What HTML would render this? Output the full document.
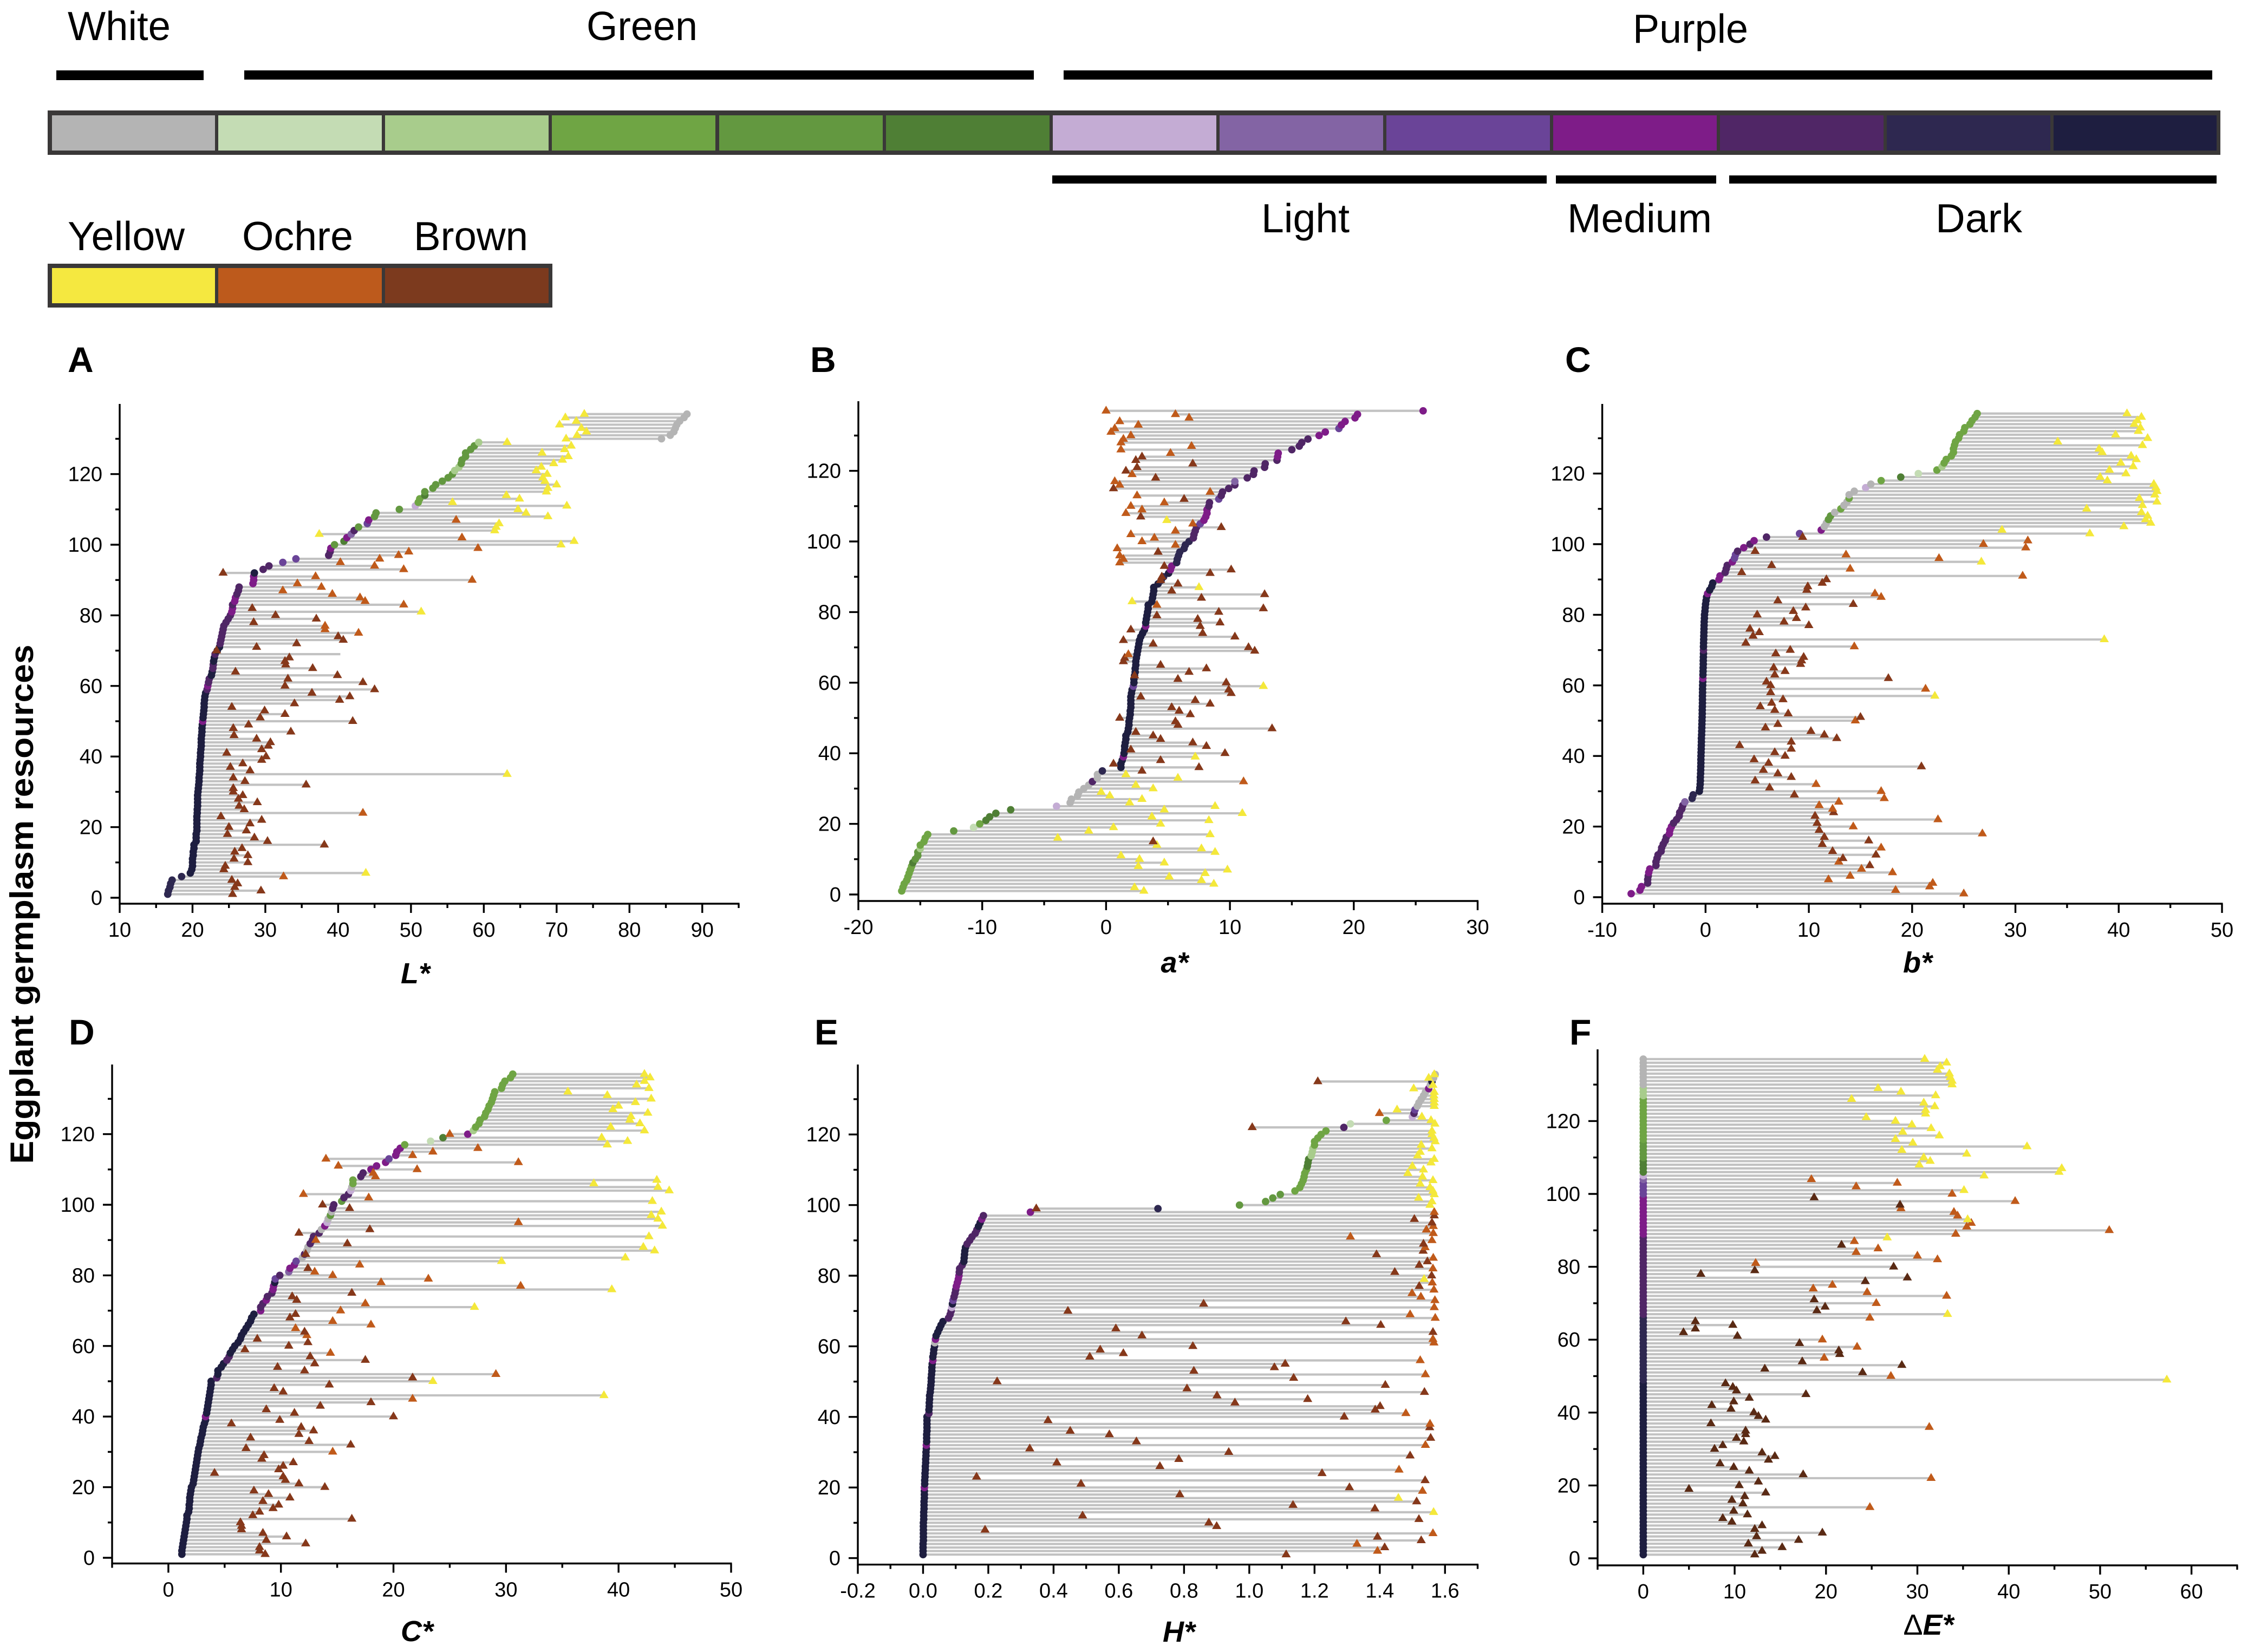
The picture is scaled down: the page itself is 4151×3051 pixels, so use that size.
<!DOCTYPE html>
<html lang="en">
<head>
<meta charset="utf-8">
<title>Eggplant germplasm colour dumbbell charts</title>
<style>
html,body{margin:0;padding:0;background:#fff;}
svg{display:block;font-family:"Liberation Sans",Arial,sans-serif;}
</style>
</head>
<body>
<svg id="fig" xmlns="http://www.w3.org/2000/svg" width="4151" height="3051" viewBox="0 0 4151 3051">
<rect x="0" y="0" width="4151" height="3051" fill="#ffffff"/>

<g>
<text x="125" y="74" font-size="75" textLength="190" lengthAdjust="spacingAndGlyphs">White</text>
<text x="1083" y="74" font-size="75" textLength="205" lengthAdjust="spacingAndGlyphs">Green</text>
<text x="3015" y="79" font-size="75" textLength="213" lengthAdjust="spacingAndGlyphs">Purple</text>
<rect x="104" y="130" width="272" height="18" fill="#000"/>
<rect x="451" y="130" width="1458" height="17" fill="#000"/>
<rect x="1964" y="130" width="2121" height="17" fill="#000"/>

<rect x="88" y="204" width="4012" height="82" fill="#3a3838"/>
<rect x="96" y="213" width="301" height="65" fill="#b4b4b4"/>
<rect x="403" y="213" width="302" height="65" fill="#c4dcb4"/>
<rect x="711" y="213" width="302" height="65" fill="#a8cc8c"/>
<rect x="1019" y="213" width="302" height="65" fill="#6fa544"/>
<rect x="1328" y="213" width="302" height="65" fill="#639840"/>
<rect x="1636" y="213" width="302" height="65" fill="#4f7f35"/>
<rect x="1944" y="213" width="302" height="65" fill="#c4acd4"/>
<rect x="2252" y="213" width="302" height="65" fill="#8364a4"/>
<rect x="2560" y="213" width="302" height="65" fill="#6a4498"/>
<rect x="2868" y="213" width="302" height="65" fill="#7e1c88"/>
<rect x="3176" y="213" width="302" height="65" fill="#502666"/>
<rect x="3484" y="213" width="302" height="65" fill="#2e2850"/>
<rect x="3792" y="213" width="301" height="65" fill="#1e1e40"/>

<rect x="1943" y="324" width="913" height="15" fill="#000"/>
<rect x="2873" y="324" width="296" height="15" fill="#000"/>
<rect x="3193" y="324" width="900" height="15" fill="#000"/>
<text x="2329" y="429" font-size="75" textLength="163" lengthAdjust="spacingAndGlyphs">Light</text>
<text x="2894" y="429" font-size="75" textLength="267" lengthAdjust="spacingAndGlyphs">Medium</text>
<text x="3574" y="429" font-size="75" textLength="160" lengthAdjust="spacingAndGlyphs">Dark</text>

<text x="125" y="462" font-size="75" textLength="216" lengthAdjust="spacingAndGlyphs">Yellow</text>
<text x="447" y="462" font-size="75" textLength="205" lengthAdjust="spacingAndGlyphs">Ochre</text>
<text x="764" y="462" font-size="75" textLength="211" lengthAdjust="spacingAndGlyphs">Brown</text>
<rect x="88" y="487" width="932" height="81" fill="#3a3838"/>
<rect x="96" y="495" width="301" height="65" fill="#f5e840"/>
<rect x="403" y="495" width="302" height="65" fill="#bd5a1c"/>
<rect x="711" y="495" width="302" height="65" fill="#7c3a1e"/>
</g>

<text transform="translate(61 1670) rotate(-90)" text-anchor="middle" font-size="60" font-weight="bold" textLength="959" lengthAdjust="spacingAndGlyphs">Eggplant germplasm resources</text>

<text x="125" y="687" font-size="66" font-weight="bold">A</text>
<text x="1496" y="687" font-size="66" font-weight="bold">B</text>
<text x="2890" y="687" font-size="66" font-weight="bold">C</text>
<text x="127" y="1929" font-size="66" font-weight="bold">D</text>
<text x="1504" y="1929" font-size="66" font-weight="bold">E</text>
<text x="2898" y="1929" font-size="66" font-weight="bold">F</text>

<text x="767" y="1816" text-anchor="middle" font-size="54" font-weight="bold" font-style="italic">L*</text>
<text x="2169" y="1796" text-anchor="middle" font-size="54" font-weight="bold" font-style="italic">a*</text>
<text x="3541" y="1796" text-anchor="middle" font-size="54" font-weight="bold" font-style="italic">b*</text>
<text x="770" y="3031" text-anchor="middle" font-size="54" font-weight="bold" font-style="italic">C*</text>
<text x="2177" y="3032" text-anchor="middle" font-size="54" font-weight="bold" font-style="italic">H*</text>
<text x="3561" y="3019" text-anchor="middle" font-size="54"><tspan>&#916;</tspan><tspan font-weight="bold" font-style="italic">E*</tspan></text>
</svg>

<script>
/* Category codes: a grey, c-g greens, h-m purples, n darkest; y yellow, o ochre, b brown, d dark brown, x no marker */
const yTickLabels = [0,20,40,60,80,100,120];

const xTicksL = [10,20,30,40,50,60,70,80,90];
const xTicksA = [-20,-10,0,10,20,30];
const xTicksB = [-10,0,10,20,30,40,50];
const xTicksC = [0,10,20,30,40,50];
const xTicksH = ["-0.2","0.0","0.2","0.4","0.6","0.8","1.0","1.2","1.4","1.6"];
const xTicksE = [0,10,20,30,40,50,60];

const startsL = [16.6,16.7,16.9,17,17.2,18.5,19.7,19.9,20,20,
20,20.1,20.1,20.2,20.2,20.5,20.5,20.5,20.6,20.6,
20.6,20.6,20.6,20.65,20.65,20.7,20.7,20.7,20.7,20.75,
20.8,20.85,20.9,20.9,20.95,21,21,21,21.05,21.1,
21.1,21.15,21.2,21.2,21.2,21.25,21.3,21.3,21.35,21.4,
21.45,21.5,21.55,21.6,21.6,21.65,21.7,21.8,22,22.1,
22.2,22.3,22.6,22.7,22.8,22.85,22.9,23,23.1,23.4,
23.7,23.8,23.9,24,24.1,24.2,24.3,24.6,24.9,25.2,
25.4,25.5,25.5,25.8,25.9,26.1,26.3,26.4,28.3,28.4,
28.4,28.5,29.7,30.5,32.4,34.2,38.7,38.9,39,39.5,
40.8,41.2,41.8,42.2,42.8,44,44.2,45,45.2,48.4,
50.6,51,51.2,51.9,51.9,53,53.4,54.3,55.1,55.7,
56,56.6,56.9,57,57.5,57.5,58.2,58.7,59.3,84.4,
85.6,86.1,86.3,86.5,86.9,87.5,87.9];
const endsL = [25.5,29.4,25.8,26.2,25.4,32.5,43.8,24.3,24.5,27.6,
25.7,27.6,25.8,26.8,38.1,30.3,28.5,24.8,27.4,25,
27.9,29.5,23.9,43.4,27.1,26.4,28.9,26.3,26.9,25.6,
25.6,35.6,27.2,25.6,63.2,27.9,25.2,26.9,29.5,30.1,
24.7,29.5,30.4,30.7,28.8,25.7,33.5,25.6,27.7,42,
29.3,32.7,29.9,25.4,34,40.2,41.6,36.4,45,32.7,
43.4,33.1,39.9,25.9,36.5,32.8,32.7,33.3,40.3,23.3,
28.8,34.3,40.7,40,42.8,38.2,38.2,28.4,37,31.4,
51.4,28.2,49,43.7,43,39.2,32.4,37.7,34.4,58.4,
36.9,24.2,49,45,40.3,45.7,48.3,49.7,59.2,70.6,
72.4,57,37.4,61.5,61.7,62.1,56.2,68.8,65.8,64.7,
71.4,55.7,64.9,63.1,68.6,68.8,70,68.4,68.1,68.7,
67.2,67.9,69.6,70.8,71.6,68,71.1,72,63.2,71.3,
72.8,74.1,73.4,70.4,72.7,71.2,73.8];
const startColoursL = "m6 n43 k1 n8 l1 k1 l2 n2 l2 n2 l1 n2 l7 l2 k2 l1 k2 l1 l2 k3 n1 l2 j2 l2 k1 f1 g1 k1 i1 l1 f1 j1 k1 f3 h1 e2 g1 f6 d2 f6 d1 a8";
const endColoursL = "b5 o1 y1 b16 o1 b10 y1 b33 x1 b5 o3 b3 y1 b1 o9 b1 o7 y2 o1 y4 o1 y30";

const startsA = [-16.5,-16.4,-16.3,-16.1,-16,-15.9,-15.8,-15.7,-15.6,-15.4,
-15.2,-15.2,-15,-15,-14.7,-14.6,-14.4,-12.3,-10.7,-10.2,
-9.7,-9.4,-8.9,-7.7,-4,-2.9,-2.8,-2.3,-2.2,-1.8,
-1.4,-1.1,-0.7,-0.7,-0.3,1.2,1.2,1.3,1.4,1.45,
1.5,1.5,1.55,1.6,1.6,1.75,1.8,1.85,1.85,1.9,
1.95,1.95,2,2,2,2,2.05,2.1,2.2,2.25,
2.25,2.3,2.35,2.35,2.4,2.4,2.45,2.5,2.55,2.6,
2.65,2.7,2.8,2.95,3.1,3.2,3.2,3.25,3.3,3.35,
3.4,3.4,3.7,3.75,3.8,3.85,3.85,4.2,4.45,4.65,
5.05,5.2,5.3,5.7,5.75,5.85,5.95,6.3,6.4,6.7,
7.05,7.1,7.2,7.3,7.6,7.9,8.05,8.15,8.15,8.3,
8.35,9.1,9.3,9.4,9.9,10.4,10.4,11.4,11.9,11.95,
12.8,12.85,13.8,13.85,13.9,15,15.6,15.8,16.3,17.2,
17.7,18.8,19,19.3,20.1,20.3,25.6];
const endsA = [3.05,2.3,8.7,7.7,5.1,8,9.8,2.6,4.7,2.7,
1.2,8.8,7.7,4.1,3.8,-3.9,8.4,-1.4,0.6,4.4,
8.3,3.7,11,4.7,8.8,1.9,2.9,0.3,-0.4,3.8,
2.4,11.1,5.8,1.6,2.9,7.5,0.6,4.4,7.2,9.6,
2,8.1,7,4.4,3.8,2.4,13.4,5.8,5.6,1.1,
6.8,5.9,5.3,8.4,7.2,2.8,10.1,9.9,12.7,9.7,
5.8,2.3,6.7,8.1,4.4,1.4,1.5,1.8,12,11.5,
3.8,1.4,10.4,7.8,2,7.6,9.2,7.4,4.1,9.1,
12.7,4.1,2.1,7.7,12.8,5.3,7.5,5.8,4.4,4.5,
8.4,10.1,4.7,1.1,1.4,1.1,4.2,0.9,5.6,2.9,
3.9,2,5.6,9.3,7,4.9,2.8,1.6,2.9,2,
4.7,6.3,2.5,8.4,0.6,1.1,0.7,4,2.1,1.6,
2.5,7,2.4,2.9,5.2,1.2,6.9,1.2,1.4,2,
0.4,0.7,2.6,1.1,6.7,5.6,0];
const startColoursA = "e8 g1 f3 d1 e4 f1 c1 e1 g4 h1 a6 l1 a2 m1 n3 k1 n19 j1 n16 k1 n12 m2 n1 k2 m6 m1 l1 l3 j1 k4 l2 j1 l4 i1 l5 l1 k2 l1 l3 k2 j1 k4 k1";
const endColoursA = "y14 b1 y16 o1 y2 b4 y1 b19 y1 b8 o1 b13 o1 y1 b3 y1 b6 o3 b1 o6 b1 o1 y1 b1 o4 b1 o2 b1 o2 b1 o1 b5 o13";

const startsB = [-7.2,-6.35,-6.2,-5.6,-5.6,-5.55,-5.5,-5.4,-4.8,-4.8,
-4.7,-4.6,-4.3,-4.25,-4.1,-3.9,-3.8,-3.5,-3.45,-3.3,
-3.1,-2.8,-2.55,-2.5,-2.3,-2.2,-2,-1.3,-1.2,-0.6,
-0.55,-0.52,-0.5,-0.5,-0.48,-0.47,-0.46,-0.45,-0.45,-0.44,
-0.43,-0.42,-0.41,-0.4,-0.4,-0.38,-0.37,-0.36,-0.35,-0.34,
-0.33,-0.32,-0.32,-0.31,-0.3,-0.3,-0.3,-0.29,-0.29,-0.28,
-0.27,-0.26,-0.25,-0.24,-0.23,-0.22,-0.22,-0.21,-0.2,-0.2,
-0.2,-0.19,-0.18,-0.17,-0.16,-0.15,-0.14,-0.13,-0.11,-0.1,
-0.06,-0.03,0,0.05,0.1,0.2,0.4,0.6,0.7,1.3,
1.4,1.9,2,2.1,2.6,2.8,2.9,3.1,3.7,4.3,
4.7,5.9,9.1,11.2,11.5,11.7,11.9,12.1,12.5,13.1,
13.4,13.7,13.9,13.9,14.4,15.5,16,17,18.9,20.6,
22.4,22.9,23.1,23.3,23.8,24,24,24.1,24.2,24.5,
24.6,25,25.1,25.6,25.8,26.1,26.3];
const endsB = [25,18.4,21.7,22,11.9,14,18.1,15.1,15.9,12.9,
13.3,16.5,12.3,17,11.3,15.8,11.5,26.8,11,14.3,
10.8,22.5,10.6,12.4,12.3,11,12.9,17.3,8.6,17,
6.2,10.7,4.8,8.3,7,5.6,20.9,6.1,4.7,7.7,
6.7,8.3,3.3,8.3,12.7,11.5,10.2,5.8,7,14.5,
15,8,6.7,5.3,6.4,7.5,22.2,6.3,21.3,6.3,
5.9,17.7,6.7,7.7,6.6,9.2,9.3,9.5,6.8,8.2,
14.4,3.9,38.6,4.6,5.2,4.3,10,7.6,8.8,5,
8.5,9.7,14.3,7,17,16.4,9.8,9.9,11.3,11.7,
30.7,3.5,14,6.4,26.7,22.6,13.6,4.8,31,26.9,
31.2,9.4,37.2,28.7,40.5,43.1,42.6,42.8,42.2,36.9,
42.3,43.7,42,43.5,43.7,43.6,43.4,38.9,38.2,40.7,
39.1,41.4,40.2,41.7,41.2,38.4,38.1,42.3,34.1,42.8,
39.7,41.9,42.1,41.5,41.8,42.2,40.8];
const startColoursB = "k3 l3 k2 l4 l5 k3 l4 l2 i1 m2 n32 k1 n7 l1 n15 k1 n3 k2 l3 k1 j2 l1 k1 l1 k1 l1 j1 k1 a2 f2 a1 e1 a2 e1 a2 h1 a1 e1 g1 c1 e1 d1 e2 e2 e3 e8";
const endColoursB = "o8 b1 o1 b3 o1 b3 o1 b1 o1 b1 o1 b2 o4 b1 o1 b1 o1 b17 o1 b6 y1 b1 o1 b11 o1 b1 y1 b11 o2 b4 o1 b1 o1 b1 y1 o2 b1 o3 b1 y35";

const startsC = [1.2,1.2,1.25,1.3,1.35,1.4,1.45,1.5,1.55,1.6,
1.65,1.65,1.8,1.85,1.85,1.9,1.9,1.95,2,2.05,
2.2,2.25,2.3,2.35,2.4,2.45,2.5,2.55,2.6,2.65,
2.7,2.8,2.85,2.9,3,3.05,3.1,3.2,3.3,3.3,
3.4,3.45,3.5,3.55,3.6,3.65,3.7,3.75,3.8,3.8,
4.3,4.4,4.4,4.7,4.9,5.2,5.4,5.5,5.7,5.9,
6.2,6.4,6.5,6.7,6.9,7.1,7.3,7.4,7.6,8.2,
8.2,8.4,8.7,8.8,9.2,9.3,9.35,9.45,9.5,9.9,
10.7,10.8,11.2,11.35,11.9,12.1,12.3,12.4,12.6,12.8,
12.9,13.4,13.6,13.9,14.1,14.2,14.4,14.5,14.6,14.7,
15.4,15.6,16,16.2,16.3,16.4,16.4,17.1,17.3,18,
18.5,19.3,19.6,20.2,20.3,20.6,21,23.3,24.4,26.6,
27.1,27.3,27.6,27.7,28.1,28.2,28.4,28.5,28.7,28.8,
28.9,29,29.6,29.7,29.9,30.4,30.6];
const endsC = [8.6,8.1,8.1,12.2,8.7,10.5,8.4,6.5,6.5,6.4,
16.3,7.5,8.1,9.3,9.8,8.4,10.8,8.9,7.6,13.9,
11.6,10.4,10.2,4.1,9.8,10.2,11.1,8.3,8.5,14.6,
6.9,16.2,12.5,7.3,11.6,12.9,11.8,5.6,9.9,20,
11.2,8.7,13.5,18,21.7,38.7,10.2,9.4,14.3,23.5,
21.7,29.1,12.1,9.7,13,17.5,12.6,14.4,6.8,10.7,
12.4,7.9,12.3,12.1,11.3,18,14.6,10.8,11.3,15.3,
27.2,17.5,11.4,11,16.3,39.4,31.3,18.9,23.1,14.6,
13,12.4,17,29.6,40.6,12.2,43.2,42.2,15.9,13.1,
42.7,11.6,17.9,43.9,31.1,43.5,42.9,43.8,16.1,13.7,
43,17.8,12,44.5,43.5,37.8,43.4,18.4,18.2,22.1,
15.1,31.1,14,21.7,23.5,27.5,39,40.8,38.5,25,
42.3,39.3,41.9,41,41.1,42.6,39.5,40,41.5,42.9,
39,35.5,42.7,41.6,42.3,42.8,42.3];
const startColoursC = "n39 k1 n10 l1 n4 l2 n12 k1 l2 k1 l2 k2 n1 j1 l1 i1 k2 j1 a1 l1 a2 l2 l2 a1 k1 h1 a1 f1 a1 l2 f1 l2 h1 a1 e2 l2 k3 j1 k3 e1 c1 g1 k1 d1 e3 e3 e10";
const endColoursC = "b29 o1 b14 o1 y1 b3 y1 b1 o1 b5 o1 b4 o1 b1 o3 b2 o1 y1 o1 b3 y1 o5 b1 o1 y2 b1 y2 b1 o1 y1 b2 y1 o1 y3 b2 y1 o2 y4 o9 y3 o1 y17";

const startsH = [0,0,0,0,0.001,0.001,0.001,0.001,0.001,0.001,
0.002,0.002,0.002,0.003,0.003,0.003,0.004,0.004,0.004,0.004,
0.005,0.005,0.006,0.006,0.007,0.007,0.008,0.008,0.009,0.009,
0.01,0.01,0.011,0.011,0.011,0.012,0.012,0.012,0.012,0.012,
0.018,0.018,0.019,0.019,0.02,0.02,0.022,0.023,0.024,0.025,
0.025,0.026,0.027,0.027,0.028,0.03,0.03,0.032,0.033,0.035,
0.036,0.038,0.04,0.045,0.05,0.055,0.061,0.078,0.083,0.086,
0.088,0.09,0.092,0.095,0.098,0.1,0.102,0.105,0.108,0.11,
0.111,0.112,0.12,0.125,0.126,0.127,0.128,0.13,0.135,0.143,
0.15,0.16,0.165,0.17,0.175,0.18,0.185,0.329,0.72,0.97,
1.05,1.072,1.095,1.14,1.155,1.16,1.165,1.168,1.17,1.175,
1.178,1.18,1.182,1.19,1.193,1.195,1.2,1.2,1.21,1.22,
1.235,1.29,1.31,1.42,1.5,1.505,1.508,1.515,1.52,1.527,
1.534,1.54,1.55,1.555,1.56,1.565,1.57];
const endsH = [1.113,1.393,1.415,1.33,1.527,1.393,1.563,0.19,0.9,0.876,
1.52,0.489,1.565,1.385,1.134,1.513,1.457,0.787,1.531,1.307,
0.484,1.539,0.164,1.223,1.459,0.726,0.41,0.784,1.493,0.937,
0.327,1.54,0.654,1.556,0.571,0.451,1.553,1.554,0.383,1.291,
1.48,1.386,1.401,0.956,1.179,0.901,1.537,0.809,1.417,0.227,
1.136,1.54,0.83,1.077,1.11,1.524,0.511,0.614,0.543,0.827,
1.566,1.563,0.671,1.563,0.591,1.403,1.296,1.57,1.493,0.444,
1.567,0.86,1.569,1.526,1.499,1.566,1.521,1.561,1.536,1.559,
1.446,1.563,1.521,1.546,1.564,1.39,1.533,1.539,1.534,1.56,
1.31,1.564,1.543,1.564,1.56,1.506,1.567,1.567,0.347,1.554,
1.56,1.519,1.567,1.563,1.554,1.524,1.563,1.531,1.486,1.534,
1.5,1.557,1.567,1.516,1.524,1.56,1.527,1.57,1.566,1.56,
1.56,1.009,1.569,1.557,1.529,1.399,1.453,1.567,1.567,1.567,
1.566,1.567,1.504,1.563,1.21,1.55,1.567];
const startColoursH = "n19 k1 n11 k1 n8 l1 n14 k1 n4 a1 k1 n5 l3 h1 n1 j1 l3 k4 l3 n5 l5 n2 k1 l1 k1 m1 f4 e3 e4 g3 d3 e5 l1 c1 e1 h1 l1 j1 a5 k1 a1 n1 a2";
const endColoursH = "b1 o1 b1 o1 b2 o1 b5 y1 b3 y1 b1 o1 b5 o1 b6 o1 b5 o1 b2 o1 b10 o1 b3 o1 b4 o2 b5 o2 b1 o1 b1 o4 b1 o1 y1 b2 o1 b2 o1 b2 o1 b1 o5 b3 o1 b1 y22 b1 y3 o1 y8 b1 y2";

const startsE = [0,0,0,0,0,0,0,0,0,0,
0,0,0,0,0,0,0,0,0,0,
0,0,0,0,0,0,0,0,0,0,
0,0,0,0,0,0,0,0,0,0,
0,0,0,0,0,0,0,0,0,0,
0,0,0,0,0,0,0,0,0,0,
0,0,0,0,0,0,0,0,0,0,
0,0,0,0,0,0,0,0,0,0,
0,0,0,0,0,0,0,0,0,0,
0,0,0,0,0,0,0,0,0,0,
0,0,0,0,0,0,0,0,0,0,
0,0,0,0,0,0,0,0,0,0,
0,0,0,0,0,0,0,0,0,0,
0,0,0,0,0,0,0];
const endsE = [12.2,13,15.2,11.5,17,12.4,19.6,12.2,13,9.7,
8.7,11.4,9.9,24.8,10.9,9.7,11.1,13.4,5,10.5,
12.6,31.5,17.5,11.6,9.9,8.4,13.7,14.4,13,7.8,
8.7,11,10.2,11.2,11.2,31.3,7.4,13.4,12.6,12.1,
9.6,7.5,9.9,11.6,17.8,10.2,9.8,9,57.3,27.1,
24,13.3,28.3,17.4,19.8,21.5,21.4,23.4,17.1,19.6,
10.3,4.4,5.7,9.8,5.7,24.8,33.3,19,19.9,25.5,
18.7,33.2,24.5,18.6,20.7,24.3,28.9,6.3,12.2,27.4,
12.3,32.2,30,23.3,25.7,21.7,23.1,26.7,34.2,51,
35.4,35.9,35.5,34.4,34,28.2,28.1,40.7,18.7,33.8,
35.1,23.3,27.8,18.4,37.3,45.5,45.8,30.2,31.4,30.7,
35.4,28.3,42,29.5,27.6,32.4,28.4,31.5,29.4,27.6,
24.4,30.9,30.9,31.9,30.7,22.8,32,28.2,25.7,33.8,
33.8,33.6,33.5,32.2,32.5,33.2,30.8];
const startColoursE = "n48 m18 l22 k11 j4 i1 h1 g4 f5 e12 d3 a8";
const endColoursE = "d13 o1 d7 o1 d13 o1 d12 y1 o1 d4 o1 d2 o1 d1 o1 d5 o1 y1 d2 o1 d1 o4 d5 o5 d1 o1 y1 o4 y1 o3 d1 o1 d1 o1 y1 o3 y33";

const colourTable = {a:"#b4b4b4",c:"#c4dcb4",d:"#a8cc8c",e:"#6fa544",f:"#639840",g:"#4f7f35",h:"#c4acd4",i:"#8364a4",j:"#6a4498",k:"#7e1c88",l:"#502666",m:"#2e2850",n:"#1e1e40"};
const triangleTable = {y:"#f4e83a",o:"#c05a1a",b:"#86381a",d:"#5a2a14"};

const panels = [
 {id:"l", starts:startsL, ends:endsL, sc:startColoursL, ec:endColoursL, xLabels:xTicksL, xMin:10, xMax:95, minorStep:5, left:221, right:1364, y0:1658, unit:6.52, axisY:1669, top:746},
 {id:"a", starts:startsA, ends:endsA, sc:startColoursA, ec:endColoursA, xLabels:xTicksA, xMin:-20, xMax:30, minorStep:5, left:1585, right:2728.5, y0:1652, unit:6.52, axisY:1664, top:741},
 {id:"b", starts:startsB, ends:endsB, sc:startColoursB, ec:endColoursB, xLabels:xTicksB, xMin:-10, xMax:50, minorStep:5, left:2958.6, right:4103, y0:1657, unit:6.52, axisY:1669, top:746},
 {id:"c", starts:startsC, ends:endsC, sc:startColoursC, ec:endColoursC, xLabels:xTicksC, xMin:-5, xMax:50, minorStep:5, left:207, right:1350, y0:2877, unit:6.52, axisY:2887.5, top:1966},
 {id:"h", starts:startsH, ends:endsH, sc:startColoursH, ec:endColoursH, xLabels:xTicksH, xMin:-0.2, xMax:1.7, minorStep:0.1, left:1584, right:2728.5, y0:2877.6, unit:6.52, axisY:2889.6, top:1966},
 {id:"e", starts:startsE, ends:endsE, sc:startColoursE, ec:endColoursE, xLabels:xTicksE, xMin:-5, xMax:65, minorStep:5, left:2950, right:4131, y0:2878, unit:6.73, axisY:2891, top:1938}
];

const NS = "http://www.w3.org/2000/svg";
const fig = document.getElementById("fig");

function expandRuns(runs){
  let out = [];
  runs.split(" ").forEach(function(tok){
    const code = tok.charAt(0);
    const n = parseInt(tok.slice(1), 10);
    for(let i = 0; i < n; i++){ out.push(code); }
  });
  return out;
}

function make(tag, attrs, parent){
  const el = document.createElementNS(NS, tag);
  Object.keys(attrs).forEach(function(k){ el.setAttribute(k, attrs[k]); });
  parent.appendChild(el);
  return el;
}

panels.forEach(function(p){
  const xScale = function(v){ return p.left + (v - p.xMin) * (p.right - p.left) / (p.xMax - p.xMin); };
  const yScale = function(v){ return p.y0 - v * p.unit; };

  const g = make("g", {}, fig);
  
  

  const sCodes = expandRuns(p.sc);
  const eCodes = expandRuns(p.ec);

  const lineLayer = make("g", {}, g);
  
  
  const circleLayer = make("g", {}, g);
  
  
  const triLayer = make("g", {}, g);
  
  

  p.starts.forEach(function(s, i){
    const y = yScale(i + 1);
    const x0 = xScale(s);
    const x1 = xScale(p.ends[i]);
    const ln = make("line", {x1:x0, y1:y, x2:x1, y2:y, stroke:"#c2c2c2", "stroke-width":4.2}, lineLayer);
    
    
    const c = make("circle", {cx:x0, cy:y, r:6.9, fill:colourTable[sCodes[i]] || "#1e1e40"}, circleLayer);
    
    
    const fillCol = triangleTable[eCodes[i]];
    if(fillCol){
      const pts = x1 + "," + (y - 9.5) + " " + (x1 - 8.5) + "," + (y + 5) + " " + (x1 + 8.5) + "," + (y + 5);
      const t = make("polygon", {points:pts, fill:fillCol}, triLayer);
      
      
    }
  });

  const axes = make("g", {stroke:"#000", "stroke-width":3.4}, g);
  
  

  const yLine = make("line", {x1:p.left, y1:p.top, x2:p.left, y2:p.axisY + 1.5}, axes);
  
  
  const xLine = make("line", {x1:p.left - 1.5, y1:p.axisY, x2:p.right + 1.5, y2:p.axisY}, axes);
  
  

  for(let v = 0; v <= 130; v += 10){
    const major = v % 20 === 0;
    const yy = yScale(v);
    const tk = make("line", {x1:p.left - (major ? 17 : 8), y1:yy, x2:p.left, y2:yy}, axes);
    
    
  }
  yTickLabels.forEach(function(v){
    const tx = make("text", {x:p.left - 32, y:yScale(v) + 13, "text-anchor":"end", "font-size":38, fill:"#000", stroke:"none"}, axes);
    
    
    tx.textContent = String(v);
  });

  const nMinor = Math.round((p.xMax - p.xMin) / p.minorStep);
  for(let i = 0; i <= nMinor; i++){
    const v = p.xMin + i * p.minorStep;
    const xx = xScale(v);
    const isMajor = p.xLabels.some(function(l){ return Math.abs(parseFloat(l) - v) < 1e-6; });
    const tk = make("line", {x1:xx, y1:p.axisY, x2:xx, y2:p.axisY + (isMajor ? 17 : 8)}, axes);
    
    
  }
  p.xLabels.forEach(function(l){
    const tx = make("text", {x:xScale(parseFloat(l)), y:p.axisY + 61, "text-anchor":"middle", "font-size":38, fill:"#000", stroke:"none"}, axes);
    
    
    tx.textContent = String(l);
  });
});
</script>
</body>
</html>
